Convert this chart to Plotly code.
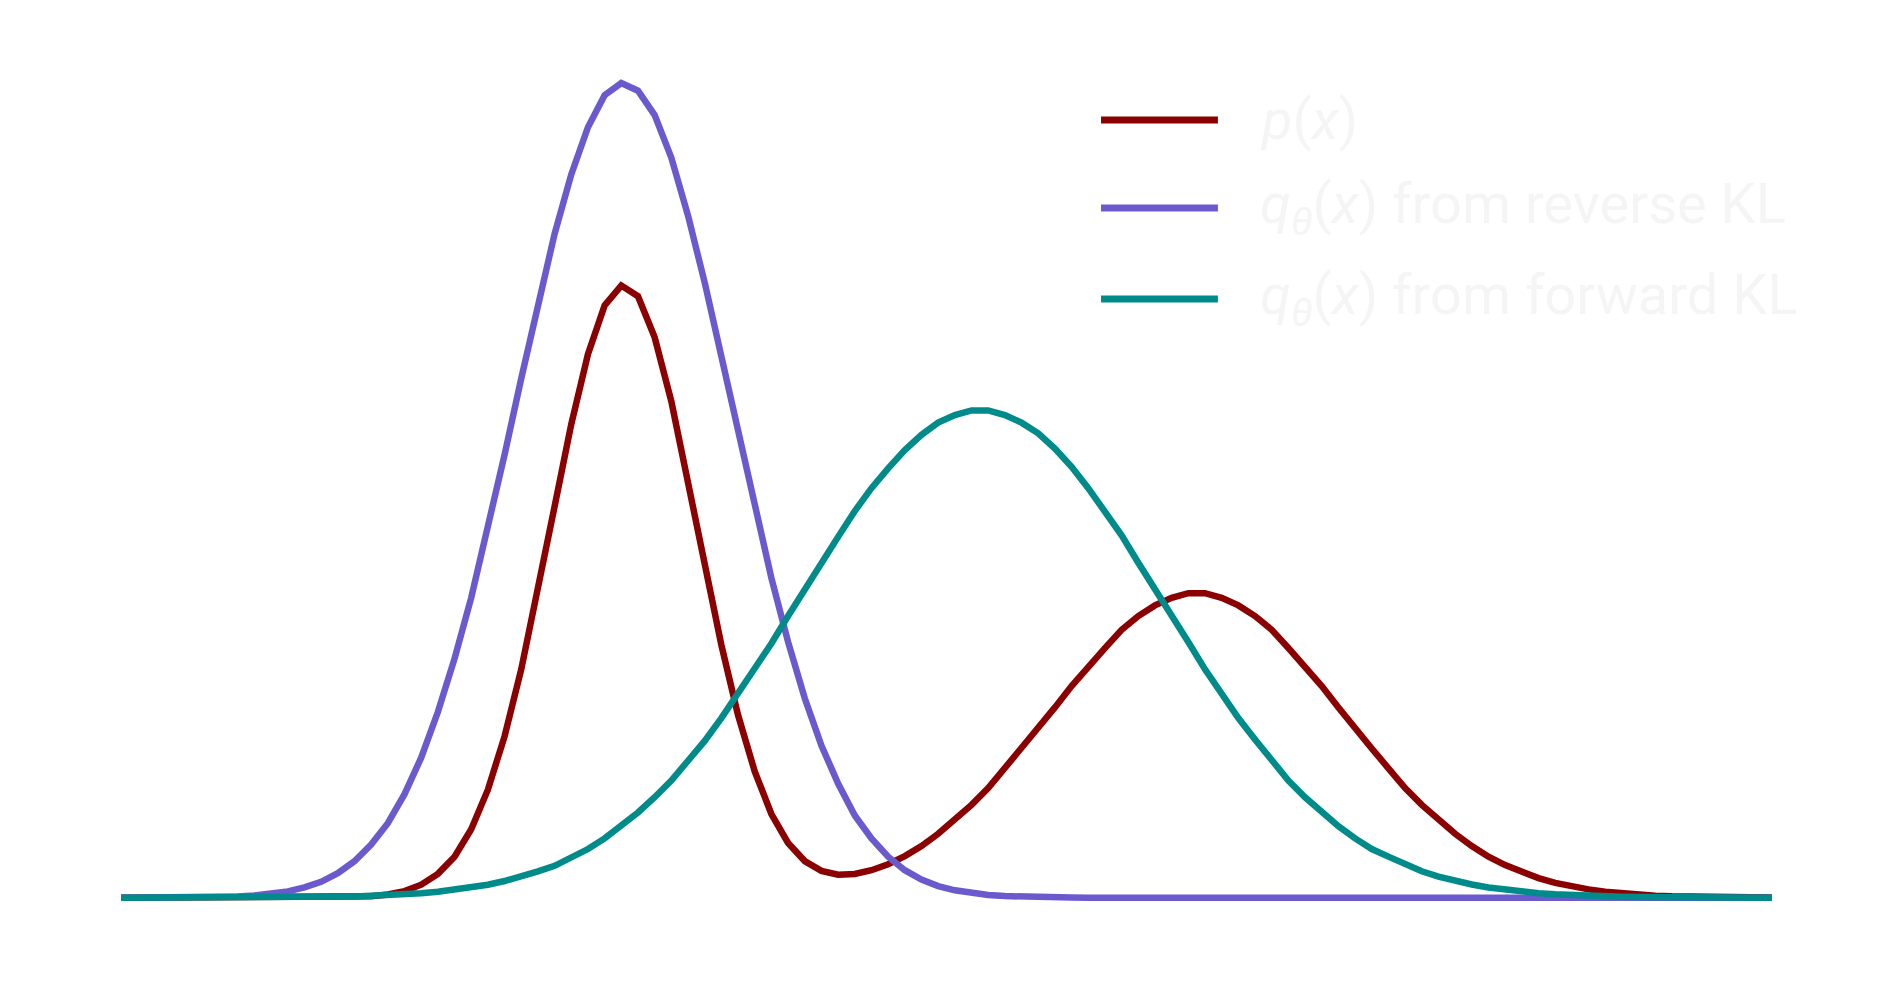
import numpy as np
import plotly.graph_objects as go

# 100 sample points along x
x = np.linspace(-3, 8, 100)

# p(x): two-mode target density
p_x = [
    0, 0, 0, 0, 0, 0, 0, 0, 0, 0,
    0, 0, 0, 0.0002, 0.0004, 0.0010, 0.0022, 0.0044, 0.0086, 0.0157,
    0.027, 0.045, 0.071, 0.106, 0.150, 0.201, 0.257, 0.311, 0.357, 0.389,
    0.402, 0.395, 0.368, 0.326, 0.274, 0.219, 0.166, 0.120, 0.083, 0.055,
    0.036, 0.0241, 0.0177, 0.0152, 0.0156, 0.0181, 0.0220, 0.0274, 0.034, 0.042,
    0.051, 0.061, 0.072, 0.085, 0.098, 0.111, 0.125, 0.139, 0.152, 0.164,
    0.176, 0.185, 0.192, 0.197, 0.200, 0.200, 0.197, 0.192, 0.185, 0.176,
    0.164, 0.152, 0.139, 0.125, 0.111, 0.098, 0.085, 0.072, 0.061, 0.051,
    0.042, 0.034, 0.027, 0.0215, 0.0168, 0.0129, 0.0098, 0.0074, 0.0055, 0.0040,
    0.0029, 0.0021, 0.0014, 0.0010, 0.0007, 0.0005, 0.0003, 0.0002, 0.0001, 0.0001,
]

# q_theta(x) fitted with reverse KL (mode seeking)
q_reverse = [
    0, 0, 0, 0.0001, 0.0002, 0.0003, 0.0005, 0.0009, 0.0015, 0.0026,
    0.0042, 0.0068, 0.0105, 0.0161, 0.024, 0.035, 0.049, 0.068, 0.092, 0.122,
    0.157, 0.197, 0.242, 0.291, 0.341, 0.390, 0.436, 0.475, 0.506, 0.527,
    0.535, 0.530, 0.514, 0.486, 0.448, 0.404, 0.356, 0.306, 0.257, 0.210,
    0.168, 0.131, 0.100, 0.075, 0.054, 0.039, 0.027, 0.0181, 0.0120, 0.0077,
    0.0049, 0.0030, 0.0018, 0.0011, 0.0006, 0.0003, 0.0002, 0.0001, 0, 0,
    0, 0, 0, 0, 0, 0, 0, 0, 0, 0,
    0, 0, 0, 0, 0, 0, 0, 0, 0, 0,
    0, 0, 0, 0, 0, 0, 0, 0, 0, 0,
    0, 0, 0, 0, 0, 0, 0, 0, 0, 0,
]

# q_theta(x) fitted with forward KL (mass covering)
q_forward = [
    0, 0, 0, 0, 0, 0, 0, 0, 0.0001, 0.0002,
    0.0003, 0.0004, 0.0005, 0.0007, 0.0009, 0.0013, 0.0017, 0.0023, 0.0030, 0.0040,
    0.0052, 0.0067, 0.0086, 0.0110, 0.0138, 0.0173, 0.021, 0.026, 0.032, 0.039,
    0.047, 0.056, 0.066, 0.077, 0.090, 0.103, 0.118, 0.134, 0.150, 0.167,
    0.185, 0.203, 0.220, 0.237, 0.254, 0.269, 0.282, 0.294, 0.304, 0.312,
    0.317, 0.320, 0.320, 0.317, 0.312, 0.305, 0.295, 0.283, 0.269, 0.254,
    0.238, 0.220, 0.203, 0.185, 0.168, 0.150, 0.134, 0.118, 0.104, 0.090,
    0.077, 0.066, 0.056, 0.047, 0.039, 0.032, 0.027, 0.022, 0.0174, 0.0139,
    0.0110, 0.0087, 0.0068, 0.0052, 0.0040, 0.0030, 0.0023, 0.0017, 0.0013, 0.0009,
    0.0007, 0.0005, 0.0004, 0.0003, 0.0002, 0.0001, 0.0001, 0, 0, 0,
]

nombres = [
    "<i>p</i>(<i>x</i>)",
    "<i>q</i><sub><i>θ</i></sub>(<i>x</i>) from reverse KL",
    "<i>q</i><sub><i>θ</i></sub>(<i>x</i>) from forward KL",
]
colores = ["#8B0000", "#6A5ACD", "#008B8B"]
series = [p_x, q_reverse, q_forward]

fig = go.Figure()

for valores, color, nombre in zip(series, colores, nombres):
    fig.add_trace(go.Scatter(
        x=x, y=valores, mode="lines", name=nombre,
        line=dict(color=color, width=6.5),
        showlegend=False, hoverinfo="skip"
    ))

# leyenda dibujada a mano (lineas largas como en el original)
filas_y = [0.9136, 0.8122, 0.7074]
for fila, color, nombre in zip(filas_y, colores, nombres):
    fig.add_shape(type="line", xref="paper", yref="paper",
                  x0=0.5936, x1=0.6644, y0=fila, y1=fila,
                  line=dict(color=color, width=7))
    fig.add_annotation(x=0.6887, y=fila, xref="paper", yref="paper",
                       text=nombre, showarrow=False,
                       xanchor="left", yanchor="middle",
                       font=dict(family="Roboto, sans-serif", size=56,
                                 color="#f5f5f5"))

# margenes compensan el margen de 8px del body html
fig.update_layout(
    width=1891, height=983,
    plot_bgcolor="white", paper_bgcolor="white",
    margin=dict(l=113, r=127, t=37, b=78),
    xaxis=dict(visible=False, range=[-3, 8]),
    yaxis=dict(visible=False, range=[-0.01, 0.56]),
    showlegend=False,
)

fig.write_html("out.html")
